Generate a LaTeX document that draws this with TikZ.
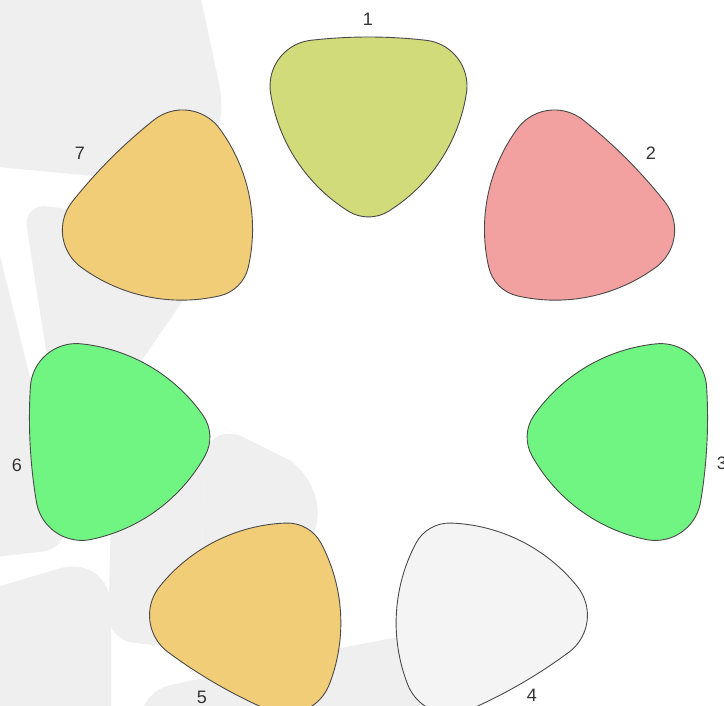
\documentclass[tikz,border=0pt]{standalone}
\usepackage{fontspec}
\setmainfont{Liberation Sans}
\definecolor{cone}{HTML}{D1DB7A}
\definecolor{ctwo}{HTML}{F2A0A0}
\definecolor{cgreen}{HTML}{70F582}
\definecolor{cgray}{HTML}{F4F4F4}
\definecolor{corange}{HTML}{F2CD78}
\definecolor{bggray}{HTML}{EFEFEF}
\definecolor{pickline}{HTML}{4A4A4A}
\definecolor{labtext}{HTML}{333333}
\tikzset{
  pick/.pic={
    \path[pic actions] (57.72,-91.7)
      arc[start angle=-83.46, end angle=-96.54, radius=506.8]
      arc[start angle=-96.54, end angle=-188.77, radius=46]
      arc[start angle=-188.77, end angle=-237.94, radius=170]
      arc[start angle=-237.94, end angle=-302.06, radius=38]
      arc[start angle=-302.06, end angle=-351.23, radius=170]
      arc[start angle=-351.23, end angle=-443.46, radius=46] -- cycle;
  },
  pickstyle/.style={draw=pickline, line width=0.9pt},
  bgblob/.style={fill=bggray},
  lab/.style={text=labtext, font=\fontsize{18}{20}\selectfont, inner sep=0pt}
}
\begin{document}
\begin{tikzpicture}[x=1pt,y=-1pt]
\useasboundingbox (0,0) rectangle (724,706);
\clip (0,0) rectangle (724,706);
\fill[white] (0,0) rectangle (724,706);
% background blobs
\fill[bgblob, rounded corners=110] (-100,157.7) -- (242,190) -- (126,-350) -- (-350,-350) -- (-350,134) -- cycle;
\fill[bgblob, rounded corners=25] (126,217) -- (230,232) -- (65,472) -- (23,203) -- cycle;
\fill[bgblob, rounded corners=30] (-200,350) -- (-200,150) -- (-10,215) -- (72,548) -- (-200,580) -- cycle;
\fill[bgblob, rounded corners=45] (265,448) -- (325,478) -- (292,655) -- (200,650) -- (205,418) -- cycle;
\fill[bgblob, rounded corners=25] (110,555) -- (112,470) -- (205,420) -- (200,650) -- (108,640) -- cycle;
\fill[bgblob, rounded corners=55] (-44.5,599.5) -- (111,553) -- (111,900) -- (-200,900) -- (-200,646) -- cycle;
\fill[bgblob, rounded corners=30] (300,656) -- (460,625) -- (460,800) -- (140,800) -- (140,692) -- cycle;
% centres
\coordinate (n1) at (368.5,132);
\coordinate (n2) at (559,225.6);
\coordinate (n3) at (612,439.6);
\coordinate (n4) at (473,601.7);
\coordinate (n5) at (264,601.7);
\coordinate (n6) at (125,439.6);
\coordinate (n7) at (178,225.6);
% picks
\pic[fill=cone, pickstyle, rotate=0] at (n1) {pick};
\pic[fill=ctwo, pickstyle, rotate=-45] at (n2) {pick};
\pic[fill=cgreen, pickstyle, rotate=-93] at (n3) {pick};
\pic[fill=cgray, pickstyle, rotate=-150] at (n4) {pick};
\pic[fill=corange, pickstyle, rotate=150] at (n5) {pick};
\pic[fill=cgreen, pickstyle, rotate=93] at (n6) {pick};
\pic[fill=corange, pickstyle, rotate=45] at (n7) {pick};
% labels
\node[lab] (l1) at (368,19) {1};
\node[lab] (l2) at (651,153) {2};
\node[lab] (l3) at (722,463) {3};
\node[lab] (l4) at (532,695) {4};
\node[lab] (l5) at (202,697) {5};
\node[lab] (l6) at (17,465) {6};
\node[lab] (l7) at (80,153) {7};
\end{tikzpicture}
\end{document}
